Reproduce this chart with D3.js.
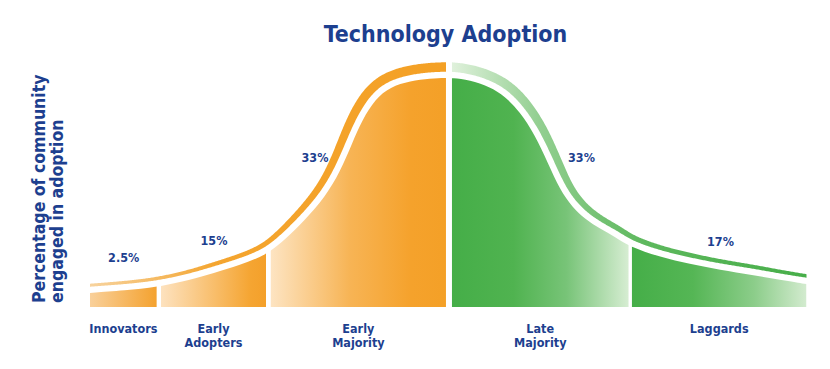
<!DOCTYPE html>
<html><head><meta charset="utf-8">
<script src="https://cdn.jsdelivr.net/npm/d3@7"></script>
<style>
html,body{margin:0;padding:0;background:#fff;}
svg{display:block;}
text{font-family:"DejaVu Sans Condensed","DejaVu Sans",sans-serif;font-weight:bold;fill:#1d3f8f;}
</style></head><body>
<svg id="chart" width="830" height="369"></svg>
<script>
// ---- data ----
const title = "Technology Adoption";
const yLabel = ["Percentage of community", "engaged in adoption"];
const categories = [["Innovators"], ["Early", "Adopters"], ["Early", "Majority"], ["Late", "Majority"], ["Laggards"]];
const shares = ["2.5%", "15%", "33%", "33%", "17%"];
// segment boundaries on the adoption-time axis (0..100)
const boundaries = [0, 9.6, 24.9, 50.1, 75.4, 100];
// adoption curve: time (0..100) and relative height (0..100 of peak)
const curveX = [0, 4.9, 9.4, 14.0, 17.2, 20.9, 24.6, 27.2, 30.0, 32.8, 34.9, 36.6, 38.0, 39.8, 41.9, 44.7, 47.5, 49.7,
                50.5, 53.0, 55.8, 57.9, 60.0, 62.1, 63.9, 65.6, 67.3, 69.1, 71.2, 73.3, 75.4, 79.6, 83.7, 87.9, 92.5, 96.3, 100];
const curveH = [6.1, 7.2, 8.7, 11.8, 14.8, 18.3, 22.7, 29.3, 38.0, 48.0, 59.0, 71.6, 81.7, 90.8, 96.1, 98.7, 99.8, 100,
                100, 99.1, 96.1, 92.1, 85.2, 75.1, 62.9, 51.1, 43.7, 38.4, 34.1, 30.6, 26.2, 21.8, 18.8, 16.2, 14.0, 11.8, 10.0];

// ---- layout (kept apart from data) ----
const labelX = [4.7, 17.3, 31.4, 68.6, 88];
const labelH = [19.6, 27, 63.5, 63.5, 26.5];
const gapW = [4.3, 4.7, 6, 3.4];

const W = 830, H = 369;
const x = d3.scaleLinear().domain([0, 100]).range([90, 806.5]);
const y = d3.scaleLinear().domain([0, 100]).range([307, 78]);

const svg = d3.select("#chart");
const defs = svg.append("defs");
const pts = curveX.map((d, i) => [d, curveH[i]]);
const crv = d3.curveBasis;
const line = d3.line().x(d => x(d[0])).y(d => y(d[1])).curve(crv);
const area = d3.area().x(d => x(d[0])).y0(y(0)).y1(d => y(d[1])).curve(crv);

function grad(id, x1, x2, stops) {
  const g = defs.append("linearGradient").attr("id", id)
    .attr("gradientUnits", "userSpaceOnUse")
    .attr("x1", x1).attr("x2", x2).attr("y1", 0).attr("y2", 0);
  stops.forEach(s => g.append("stop").attr("offset", s[0]).attr("stop-color", s[1]));
}

// segment extents in pixels
const segs = d3.range(5).map(i => {
  const l = x(boundaries[i]) + (i > 0 ? gapW[i - 1] / 2 : 0);
  const r = x(boundaries[i + 1]) - (i < 4 ? gapW[i] / 2 : 0);
  return [l, r];
});

const segStops = [
  [[0, "#f9d09a"], [1, "#f4a22f"]],
  [[0, "#fde2bf"], [0.85, "#f5a532"], [1, "#f4a02a"]],
  [[0, "#fde4c2"], [0.45, "#f7b455"], [0.8, "#f5a22c"], [1, "#f4a027"]],
  [[0, "#45ae48"], [0.35, "#50b350"], [0.65, "#78c478"], [1, "#d6edd2"]],
  [[0, "#45ae48"], [0.35, "#55b655"], [0.7, "#8ccd8a"], [1, "#d3ebcf"]]
];

segs.forEach((s, i) => {
  grad("sg" + i, s[0], s[1], segStops[i]);
  defs.append("clipPath").attr("id", "sc" + i)
    .append("rect").attr("x", s[0]).attr("y", 0).attr("width", s[1] - s[0]).attr("height", H);
  svg.append("path").attr("d", area(pts))
    .attr("fill", "url(#sg" + i + ")")
    .attr("clip-path", "url(#sc" + i + ")");
});

// ---- band above the curve (offset along normals) ----
const hidden = svg.append("path").attr("d", line(pts)).attr("fill", "none").attr("stroke", "none");
const node = hidden.node();
const L = node.getTotalLength();
const N = 800;
const sp = d3.range(N + 1).map(i => node.getPointAtLength(L * i / N));
const gap = 6.3;
const outer = [], inner = [];
sp.forEach((p, i) => {
  const a = sp[Math.max(0, i - 2)], b = sp[Math.min(N, i + 2)];
  let tx = b.x - a.x, ty = b.y - a.y;
  const len = Math.hypot(tx, ty) || 1;
  const nx = ty / len, ny = -tx / len;
  const h = Math.max(0, y.invert(p.y));
  const w = 1.5 + 8 * Math.pow(h / 100, 0.6);
  inner.push([p.x + nx * gap, p.y + ny * gap]);
  outer.push([p.x + nx * (gap + w), p.y + ny * (gap + w)]);
});
hidden.remove();
const bandPoly = outer.concat(inner.slice().reverse());
const bandD = "M" + bandPoly.map(p => p[0].toFixed(2) + "," + p[1].toFixed(2)).join("L") + "Z";

const xMid = x(boundaries[3]);
grad("bandO", x(0), x(boundaries[3]), [[0, "#f7d39e"], [0.35, "#f4a52f"], [1, "#f4a024"]]);
grad("bandG", xMid, x(100), [[0, "#e2f2de"], [0.25, "#93cf91"], [0.55, "#5db85d"], [1, "#47ae49"]]);
defs.append("clipPath").attr("id", "bcO").append("rect")
  .attr("x", x(0)).attr("y", 0).attr("width", xMid - gapW[2] / 2 - x(0)).attr("height", H);
defs.append("clipPath").attr("id", "bcG").append("rect")
  .attr("x", xMid + gapW[2] / 2).attr("y", 0).attr("width", x(100) - xMid - gapW[2] / 2).attr("height", H);
svg.append("path").attr("d", bandD).attr("fill", "url(#bandO)").attr("clip-path", "url(#bcO)");
svg.append("path").attr("d", bandD).attr("fill", "url(#bandG)").attr("clip-path", "url(#bcG)");

// ---- texts ----
svg.append("text").attr("x", 445.5).attr("y", 42).attr("text-anchor", "middle")
  .style("font-size", "23px").text(title);

yLabel.forEach((t, i) => {
  svg.append("text").attr("transform", `translate(${45 + i * 18},303) rotate(-90)`)
    .attr("text-anchor", "start").style("font-size", "17.5px").text(t);
});

shares.forEach((t, i) => {
  svg.append("text").attr("x", x(labelX[i])).attr("y", y(labelH[i]))
    .attr("text-anchor", "middle").style("font-size", "12.5px").text(t);
});

categories.forEach((c, i) => {
  const cx = (segs[i][0] + segs[i][1]) / 2;
  c.forEach((t, j) => {
    svg.append("text").attr("x", cx).attr("y", 333 + j * 14)
      .attr("text-anchor", "middle").style("font-size", "12.5px").text(t);
  });
});
</script>
</body></html>
